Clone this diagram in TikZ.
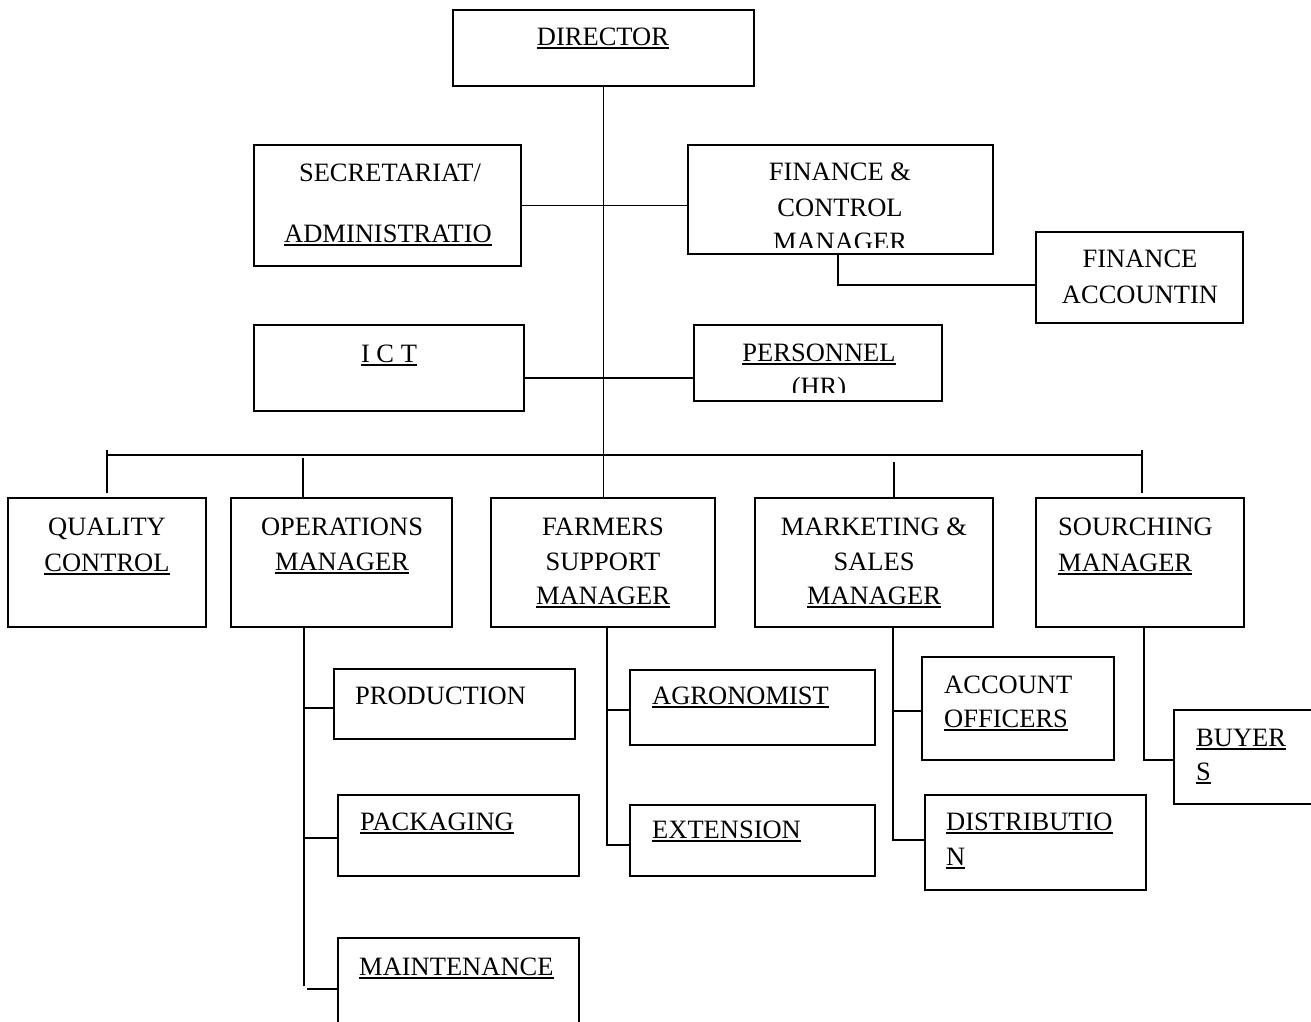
\documentclass[tikz,border=0pt]{standalone}
\usepackage{fontspec}
\setmainfont{Liberation Serif}
\usetikzlibrary{fit}
\newcommand\uln[1]{\setbox0=\hbox{#1}\rlap{\rule[-3.6pt]{\wd0}{1.6pt}}\box0}
\tikzset{
  box/.style={draw, line width=1.6pt, inner sep=0pt, rectangle},
  txt/.style={inner sep=0pt, anchor=base, font=\fontsize{26.5}{32}\selectfont},
  ltxt/.style={txt, anchor=base west},
  conn/.style={line width=1.6pt}
}
\begin{document}
\begin{tikzpicture}[x=1pt,y=-1pt]
\clip (0,0) rectangle (1311,1021);
\fill[white] (0,0) rectangle (1311,1021);
% boxes
\node[box, fit={(453,10)(754,86)}] (dir) {};
\node[box, fit={(254,145)(521,266)}] (sec) {};
\node[box, fit={(688,145)(993,254)}] (fin) {};
\node[box, fit={(1036,232)(1243,323)}] (acc) {};
\node[box, fit={(254,325)(524,411)}] (ict) {};
\node[box, fit={(694,325)(942,401)}] (per) {};
\node[box, fit={(8,498)(206,627)}] (qc) {};
\node[box, fit={(231,498)(452,627)}] (ops) {};
\node[box, fit={(491,498)(715,627)}] (far) {};
\node[box, fit={(755,498)(993,627)}] (mkt) {};
\node[box, fit={(1036,498)(1244,627)}] (src) {};
\node[box, fit={(334,669)(575,739)}] (prod) {};
\node[box, fit={(338,795)(579,876)}] (pack) {};
\node[box, fit={(338,938)(579,1040)}] (maint) {};
\node[box, fit={(630,670)(875,745)}] (agr) {};
\node[box, fit={(630,805)(875,876)}] (ext) {};
\node[box, fit={(922,657)(1114,760)}] (acct) {};
\node[box, fit={(925,795)(1146,890)}] (dist) {};
\node[box, fit={(1174,710)(1330,804)}] (buy) {};
% texts
\node[txt] (tdir) at (603,45) {\uln{DIRECTOR}};
\node[txt] (tsec1) at (390,181) {SECRETARIAT/};
\node[txt] (tsec2) at (388,242) {\uln{ADMINISTRATIO}};
\node[txt] (tfin1) at (840,180) {FINANCE \&};
\node[txt] (tfin2) at (840,216) {CONTROL};
\begin{scope}
\clip (688,145) rectangle (993,247);
\node[txt] (tfin3) at (840,250) {MANAGER};
\end{scope}
\node[txt] (tacc1) at (1140,267) {FINANCE};
\node[txt] (tacc2) at (1140,303) {ACCOUNTIN};
\node[txt] (tict) at (389,362) {\uln{I C T}};
\node[txt] (tper1) at (819,361) {\uln{PERSONNEL}};
\begin{scope}
\clip (694,325) rectangle (942,392);
\node[txt] (tper2) at (819,395) {(HR)};
\end{scope}
\node[txt] (tqc1) at (107,535) {QUALITY};
\node[txt] (tqc2) at (107,571) {\uln{CONTROL}};
\node[txt] (tops1) at (342,535) {OPERATIONS};
\node[txt] (tops2) at (342,570) {\uln{MANAGER}};
\node[txt] (tfar1) at (603,535) {FARMERS};
\node[txt] (tfar2) at (603,570) {SUPPORT};
\node[txt] (tfar3) at (603,604) {\uln{MANAGER}};
\node[txt] (tmkt1) at (874,535) {MARKETING \&};
\node[txt] (tmkt2) at (874,570) {SALES};
\node[txt] (tmkt3) at (874,604) {\uln{MANAGER}};
\node[ltxt] (tsrc1) at (1058,535) {SOURCHING};
\node[ltxt] (tsrc2) at (1058,571) {\uln{MANAGER}};
\node[ltxt] (tprod) at (355,704) {PRODUCTION};
\node[ltxt] (tpack) at (360,830) {\uln{PACKAGING}};
\node[ltxt] (tmaint) at (359,975) {\uln{MAINTENANCE}};
\node[ltxt] (tagr) at (652,704) {\uln{AGRONOMIST}};
\node[ltxt] (text) at (652,838) {\uln{EXTENSION}};
\node[ltxt] (tacct1) at (944,693) {ACCOUNT};
\node[ltxt] (tacct2) at (944,727) {\uln{OFFICERS}};
\node[ltxt] (tdist1) at (946,830) {\uln{DISTRIBUTIO}};
\node[ltxt] (tdist2) at (946,865) {\uln{N}};
\node[ltxt] (tbuy1) at (1196,746) {\uln{BUYER}};
\node[ltxt] (tbuy2) at (1196,780) {\uln{S}};
% helper coordinates
\coordinate (ictc) at (604,378);
\coordinate (barL) at (107,455);
\coordinate (barR) at (1142,455);
\coordinate (accc) at (838,285);
% connectors
\draw[conn] (dir.south) -- (dir.south |- far.north);
\draw[conn] (sec.east) -- (sec.east -| fin.west);
\draw[conn] (accc |- fin.south) -- (accc) -- (accc -| acc.west);
\draw[conn] (ict.east |- ictc) -- (per.west |- ictc);
\draw[conn] (barL) -- (barR);
\draw[conn] (107,450) -- (107,493);
\draw[conn] (1142,450) -- (1142,493);
\draw[conn] (303,458) -- (303,0 |- ops.north);
\draw[conn] (894,462) -- (894,0 |- mkt.north);
% operations subtree
\draw[conn] (304,0 |- ops.south) -- (304,986);
\draw[conn] (304,708) -- (prod.west |- 0,708);
\draw[conn] (304,838) -- (pack.west |- 0,838);
\draw[conn] (307,989) -- (maint.west |- 0,989);
% farmers subtree
\draw[conn] (607,0 |- far.south) -- (607,845) -- (ext.west |- 0,845);
\draw[conn] (607,710) -- (agr.west |- 0,710);
% marketing subtree
\draw[conn] (893,0 |- mkt.south) -- (893,840) -- (dist.west |- 0,840);
\draw[conn] (893,711) -- (acct.west |- 0,711);
% sourcing subtree
\draw[conn] (1144,0 |- src.south) -- (1144,760) -- (buy.west |- 0,760);
\end{tikzpicture}
\end{document}
